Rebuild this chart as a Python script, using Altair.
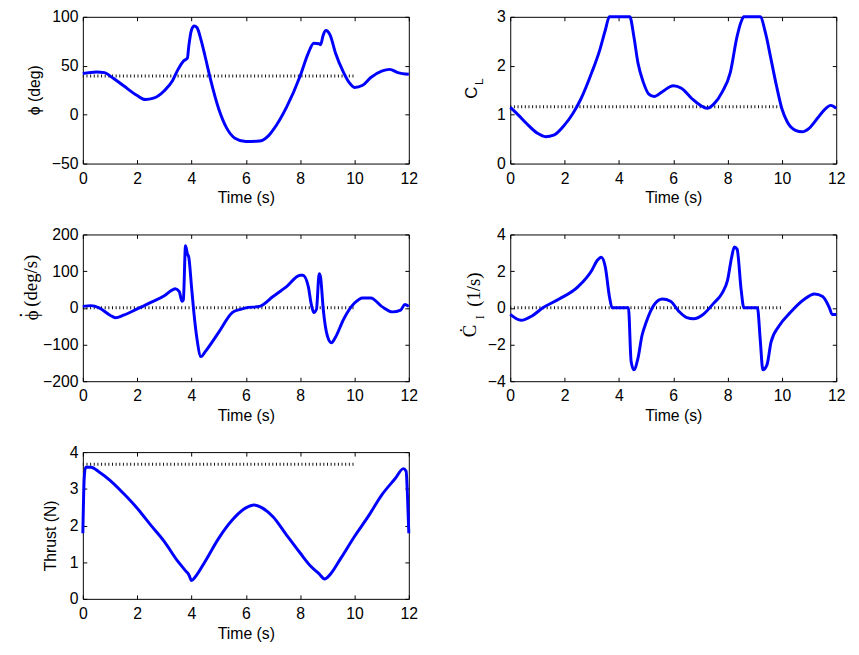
import altair as alt
import pandas as pd

# ---------------- data ----------------
phi_t = [0, 0.5, 0.8, 1.0, 1.5, 2.0, 2.3, 2.6, 3.0, 3.3, 3.5, 3.7, 3.85, 3.9, 4.0, 4.1, 4.2, 4.35, 4.5, 4.7,
         5.0, 5.3, 5.6, 6.0, 6.5, 6.8, 7.0, 7.5, 8.0, 8.3, 8.5, 8.7, 8.75, 8.85, 8.95, 9.1, 9.3, 9.6, 9.8,
         10.0, 10.3, 10.6, 11.0, 11.3, 11.6, 12.0]
phi_v = [42, 43.6, 43, 39.6, 29.5, 19.5, 15.4, 16.8, 24.5, 34.6, 46, 54.7, 58, 70, 86.6, 90.6, 89, 76.5, 59.7, 36,
         6, -14, -24, -27.5, -27, -22.5, -15.8, 7.7, 39.6, 63, 73, 72.5, 71.5, 81.5, 86, 81.5, 63, 43, 33,
         27.8, 30, 38, 44.6, 46.3, 43, 41.3]

cl_t = [0, 0.3, 0.6, 1.0, 1.3, 1.6, 2.0, 2.3, 2.6, 3.0, 3.3, 3.5, 3.65, 4.4, 4.55, 4.7, 4.9, 5.1, 5.3, 5.6,
        6.0, 6.3, 6.7, 7.0, 7.25, 7.5, 7.8, 8.1, 8.35, 8.5, 8.6, 9.2, 9.4, 9.6, 9.8, 10.0, 10.2, 10.5,
        10.75, 11.0, 11.3, 11.6, 11.8, 12.0]
cl_v = [1.15, 0.99, 0.82, 0.62, 0.55, 0.58, 0.79, 1.02, 1.32, 1.86, 2.33, 2.73, 3.0, 3.0, 2.6, 2.06, 1.66, 1.42,
        1.37, 1.47, 1.59, 1.54, 1.32, 1.19, 1.13, 1.22, 1.46, 1.86, 2.6, 2.9, 3.0, 3.0, 2.66, 2.13, 1.59,
        1.12, 0.85, 0.68, 0.65, 0.72, 0.92, 1.12, 1.19, 1.13]

phid_t = [0, 0.3, 0.6, 1.0, 1.2, 1.5, 2.0, 2.5, 3.0, 3.3, 3.4, 3.55, 3.65, 3.7, 3.78, 3.85, 3.9, 4.0, 4.1,
          4.2, 4.35, 4.5, 5.0, 5.5, 5.8, 6.0, 6.5, 7.0, 7.5, 8.0, 8.1, 8.3, 8.4, 8.5, 8.6, 8.7, 8.75, 8.85,
          9.0, 9.15, 9.3, 9.6, 10.0, 10.3, 10.6, 11.0, 11.4, 11.7, 11.85, 12.0]
phid_v = [4, 6, 0, -20, -27, -20, -3, 15, 33, 49, 52, 44, 18, 22, 169, 147, 138, 58, -22,
          -84, -133, -120, -67, -13, -4, 0, 4, 31, 58, 89, 89, 58, 13, -13, -4, 93, 84, -4,
          -76, -95, -80, -31, 13, 27, 27, 4, -11, -6, 9, 4]

cld_t = [0, 0.4, 0.8, 1.2, 1.8, 2.5, 3.0, 3.2, 3.35, 3.5, 3.65, 3.75, 4.35, 4.45, 4.55, 4.7, 4.85, 5.0,
         5.3, 5.6, 5.9, 6.2, 6.5, 6.75, 7.1, 7.5, 7.8, 8.0, 8.15, 8.25, 8.35, 8.5, 8.6, 9.1, 9.2, 9.3,
         9.45, 9.6, 9.9, 10.3, 10.8, 11.2, 11.5, 11.75, 11.85, 12.0]
cld_v = [-0.36, -0.68, -0.44, 0, 0.48, 1.16, 2.04, 2.58, 2.76, 2.22, 0.62, 0, 0, -2.93, -3.38, -2.76, -1.51, -0.8,
         0.18, 0.48, 0.36, -0.18, -0.53, -0.59, -0.36, 0.27, 0.8, 1.51, 2.76, 3.32, 3.2, 0.98, 0, 0, -1.69, -3.38,
         -3.11, -1.87, -0.98, -0.27, 0.44, 0.76, 0.62, 0, -0.36, -0.36]

thr_t = [0, 0.05, 0.1, 0.3, 0.6, 1.0, 1.5, 2.0, 2.5, 3.0, 3.5, 3.8, 3.9, 4.0, 4.15, 4.5, 5.0, 5.5, 6.0, 6.3,
         6.6, 7.0, 7.5, 8.0, 8.4, 8.7, 8.9, 9.1, 9.5, 10.0, 10.5, 11.0, 11.5, 11.8, 11.9, 11.95, 12.0]
thr_v = [1.79, 3.28, 3.59, 3.59, 3.46, 3.23, 2.87, 2.47, 2.01, 1.56, 1.02, 0.75, 0.66, 0.5, 0.61, 1.02, 1.65,
         2.15, 2.48, 2.56, 2.48, 2.24, 1.74, 1.25, 0.88, 0.68, 0.54, 0.66, 1.11, 1.70, 2.24, 2.83, 3.28, 3.55,
         3.48, 2.83, 1.79]

ref_t = [0, 10]
ref_phi = [39.5, 39.5]
ref_cl = [1.16, 1.16]
ref_phid = [0, 0]
ref_cld = [0, 0]
ref_thr = [3.67, 3.67]

x_ticks = [0, 2, 4, 6, 8, 10, 12]
phi_ticks = [-50, 0, 50, 100]
cl_ticks = [0, 1, 2, 3]
phid_ticks = [-200, -100, 0, 100, 200]
cld_ticks = [-4, -2, 0, 2, 4]
thr_ticks = [0, 1, 2, 3, 4]

W, H = 331, 149
SANS = "Liberation Sans"
SERIF = "Liberation Serif"
INK = "#000000"


def panel(t, v, rt, rv, ydom, yticks, titles):
    xs = alt.Scale(domain=[0, 12], nice=False, zero=False)
    ys = alt.Scale(domain=ydom, nice=False, zero=False)
    df = pd.DataFrame({"t": t, "v": v})
    rdf = pd.DataFrame({"t": rt, "v": rv})
    common = dict(offset=-4, tickSize=4, tickColor=INK, tickWidth=1, domain=False, grid=False,
                  labelFont=SANS, labelFontSize=16, labelColor=INK, labelFlush=False)
    line = alt.Chart(df).mark_line(color="#0000ff", strokeWidth=3, interpolate="monotone").encode(
        x=alt.X("t:Q", scale=xs, axis=alt.Axis(orient="bottom", values=x_ticks, labelPadding=7,
                                               title="Time (s)", titlePadding=4, titleFont=SANS,
                                               titleFontSize=16, titleFontWeight="normal",
                                               titleColor=INK, **common)),
        y=alt.Y("v:Q", scale=ys, axis=alt.Axis(orient="left", values=yticks, labelPadding=5,
                                               title=None, **common)),
    )
    ref = alt.Chart(rdf).mark_line(color="#111111", strokeWidth=3, strokeDash=[1, 2.7]).encode(
        x=alt.X("t:Q", scale=xs, axis=alt.Axis(orient="top", values=x_ticks, labels=False,
                                               title=None, **common)),
        y=alt.Y("v:Q", scale=ys, axis=alt.Axis(orient="right", values=yticks, labels=False,
                                               title=None, **common)),
    )
    layers = [ref, line]
    for (txt, px, py, fs, font) in titles:
        layers.append(
            alt.Chart(pd.DataFrame({"s": [txt]})).mark_text(
                angle=270, align="center", baseline="middle", fontSize=fs, font=font, color=INK
            ).encode(x=alt.value(px), y=alt.value(py), text="s:N")
        )
    return alt.layer(*layers).resolve_axis(x="independent", y="independent").properties(width=W, height=H)


p1 = panel(phi_t, phi_v, ref_t, ref_phi, [-50, 100], phi_ticks,
           [("ϕ (deg)", -49, 74.5, 16, SANS)])
p2 = panel(cl_t, cl_v, ref_t, ref_cl, [0, 3], cl_ticks,
           [("C", -39, 77, 17, SANS), ("L", -32, 66, 12, SANS)])
p3 = panel(phid_t, phid_v, ref_t, ref_phid, [-200, 200], phid_ticks,
           [("ϕ", -52, 82, 19, SERIF), ("·", -63, 82, 19, SERIF), ("(deg/s)", -53, 47, 19, SERIF)])
p4 = panel(cld_t, cld_v, ref_t, ref_cld, [-4, 4], cld_ticks,
           [("Ċ", -41, 98, 19, SERIF), ("I", -31, 84, 12, SERIF), ("(1/s)", -37, 56, 19, SERIF)])
p5 = panel(thr_t, thr_v, ref_t, ref_thr, [0, 4], thr_ticks,
           [("Thrust (N)", -32, 85, 16, SANS)])

chart = alt.concat(p1, p2, p3, p4, p5, columns=2, spacing={"row": 72, "column": 103}, bounds="flush").properties(
    padding={"left": 3, "top": -5, "right": 5, "bottom": 5}
).configure(background="white").configure_view(stroke=INK, strokeWidth=1)

chart.save("out.html", embed_options={"renderer": "svg", "actions": False})
